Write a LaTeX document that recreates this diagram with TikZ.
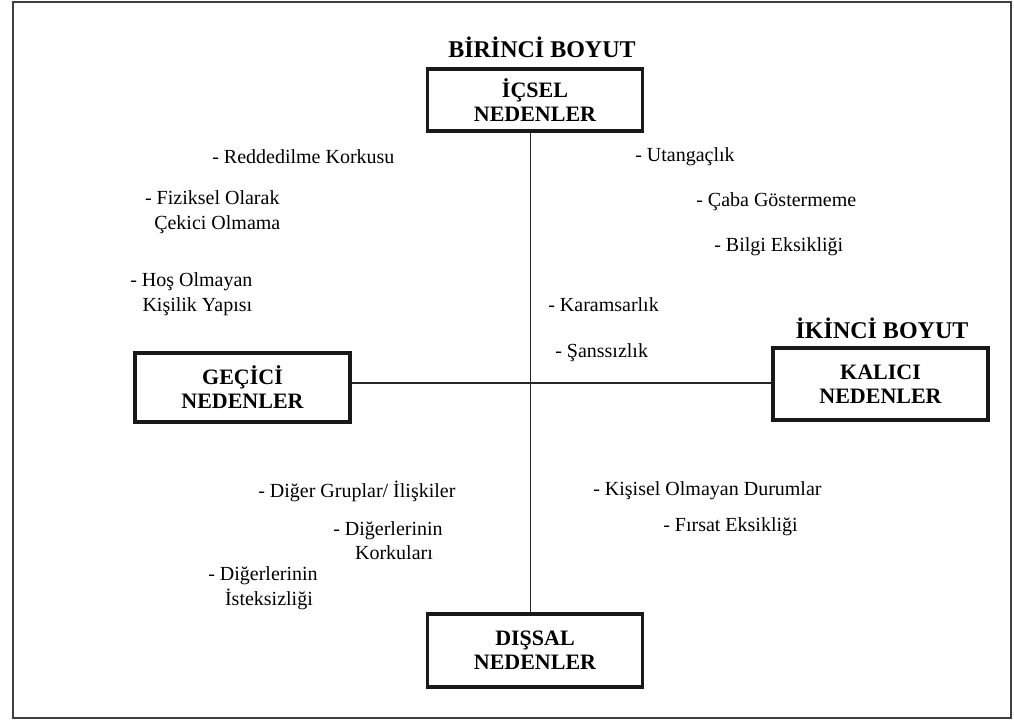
\documentclass[tikz,border=0pt]{standalone}
\usepackage{fontspec}
\setmainfont{Liberation Serif}
\begin{document}
\begin{tikzpicture}[x=0.75pt,y=-0.75pt,
  causebox/.style={draw=black!90,line width=2.3pt,minimum width=161.25pt,align=center,
    font=\fontsize{16.5}{18}\selectfont\bfseries,inner sep=0pt},
  dimtitle/.style={font=\fontsize{18}{18}\selectfont\bfseries,inner sep=0pt},
  item/.style={font=\fontsize{15}{18.5}\selectfont,inner sep=0pt,anchor=west,align=center},
  axis/.style={draw=black!85,line width=0.8pt}]
\useasboundingbox (0,0) rectangle (1014,722);
\draw[black!75,line width=1.6pt] (13,2) rectangle (1011,718);

% the four cause boxes
\node[causebox,minimum height=46.5pt] (ic) at (535,100) {İÇSEL\\NEDENLER};
\node[causebox,minimum height=51.75pt] (ge) at (242.5,387.5) {GEÇİCİ\\NEDENLER};
\node[causebox,minimum height=54pt] (ka) at (880.5,384) {KALICI\\NEDENLER};
\node[causebox,minimum height=54.75pt] (di) at (535,650.5) {DIŞSAL\\NEDENLER};

% dimension titles
\node[dimtitle] (t1) at (542,47) {BİRİNCİ BOYUT};
\node[dimtitle] (t2) at (882,328) {İKİNCİ BOYUT};

% axes
\draw[axis] ([xshift=-3.5pt]ic.south) -- ([xshift=-3.5pt]di.north);
\draw[axis] (ge.east |- 0,383) coordinate (h1) -- (ka.west |- 0,383) coordinate (h2);

% internal / temporary
\node[item] (a1) at (212,157) {- Reddedilme Korkusu};
\node[item] (a2) at (144,212) {- Fiziksel Olarak\\\hspace*{0.5em}Çekici Olmama};
\node[item] (a3) at (130,294.5) {- Hoş Olmayan\\\hspace*{0.6em}Kişilik Yapısı};
% internal / permanent
\node[item] (b1) at (635,157) {- Utangaçlık};
\node[item] (b2) at (696,202) {- Çaba Göstermeme};
\node[item] (b3) at (714,247) {- Bilgi Eksikliği};
\node[item] (b4) at (548,305) {- Karamsarlık};
\node[item] (b5) at (555,353) {- Şanssızlık};
% external / temporary
\node[item] (c1) at (258,491) {- Diğer Gruplar/ İlişkiler};
\node[item] (c2) at (333,540.5) {- Diğerlerinin\\\hspace*{0.6em}Korkuları};
\node[item] (c3) at (208,588.5) {- Diğerlerinin\\\hspace*{0.6em}İsteksizliği};
% external / permanent
\node[item] (d1) at (593,491) {- Kişisel Olmayan Durumlar};
\node[item] (d2) at (663,527) {- Fırsat Eksikliği};
\end{tikzpicture}
\end{document}
